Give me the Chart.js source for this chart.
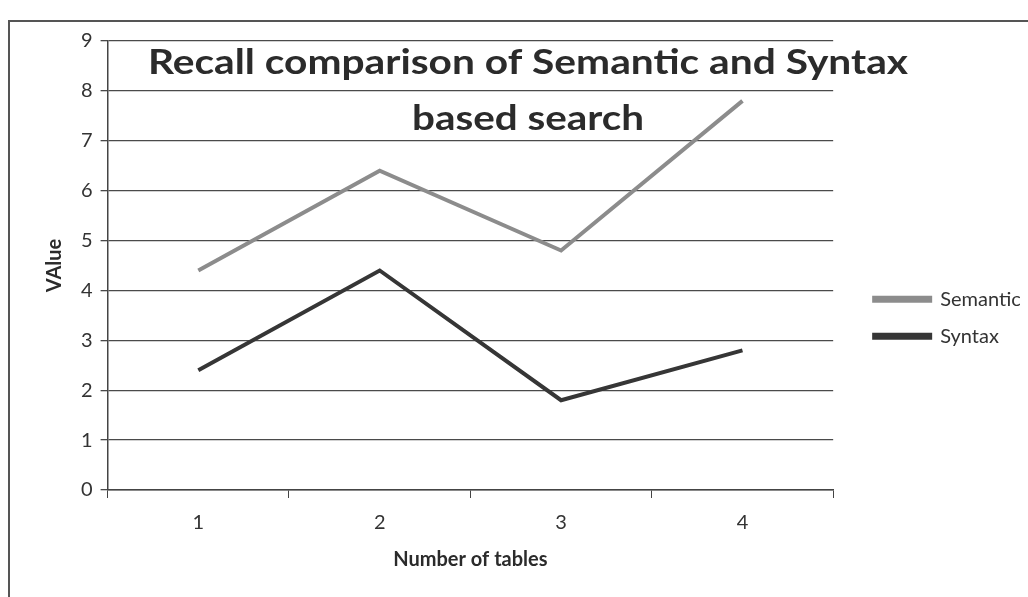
<!DOCTYPE html>
<html>
<head>
<meta charset="utf-8">
<script src="https://cdn.jsdelivr.net/npm/chart.js@4"></script>
<style>
  html, body { margin: 0; padding: 0; background: #fff; }
  #frame {
    position: absolute; left: 8px; top: 20px; width: 1030px; height: 600px;
    border-left: 2px solid #555; border-top: 2px solid #555;
  }
  #wrap { position: absolute; left: 0; top: 0; width: 1028px; height: 597px; }
</style>
</head>
<body>
<div id="frame"></div>
<div id="wrap"><canvas id="recallChart"></canvas></div>
<script>
const categories = ["1", "2", "3", "4"];
const semanticValues = [4.4, 6.4, 4.8, 7.8];
const syntaxValues = [2.4, 4.4, 1.8, 2.8];
const titleLines = ["Recall comparison of Semantic and Syntax", "based search"];

const FONT = "Lato, sans-serif";

// the title overlaps the plot in the original, so it's drawn after the datasets
// (the scan is a bit wide, so the text gets stretched to the same width)
const overlayTitle = {
  id: "overlayTitle",
  afterDraw(chart) {
    const { ctx } = chart;
    const rows = [
      { text: titleLines[0], y: 63, width: 760 },
      { text: titleLines[1], y: 119, width: 232 },
    ];
    ctx.save();
    ctx.fillStyle = "#2b2b2b";
    ctx.font = "bold 35px " + FONT;
    ctx.textAlign = "center";
    ctx.textBaseline = "middle";
    rows.forEach((r) => {
      const sx = r.width / ctx.measureText(r.text).width;
      ctx.save();
      ctx.translate(528, r.y);
      ctx.scale(sx, 1);
      ctx.fillText(r.text, 0, 0);
      ctx.restore();
    });
    ctx.restore();
  }
};

const chart = new Chart(document.getElementById("recallChart"), {
  type: "line",
  data: {
    labels: categories,
    datasets: [
      {
        label: "Semantic",
        data: semanticValues,
        borderColor: "#8c8c8c",
        backgroundColor: "#8c8c8c",
        borderWidth: 4,
        pointRadius: 0,
        tension: 0,
      },
      {
        label: "Syntax",
        data: syntaxValues,
        borderColor: "#363636",
        backgroundColor: "#363636",
        borderWidth: 4,
        pointRadius: 0,
        tension: 0,
      },
    ],
  },
  options: {
    responsive: true,
    maintainAspectRatio: false,
    animation: false,
    layout: { padding: { left: 43, right: 8, top: 41, bottom: 25 } },
    plugins: {
      title: { display: false },
      tooltip: { enabled: false },
      legend: {
        position: "right",
        title: { display: true, text: "", padding: { top: 8, bottom: 0 } },
        labels: {
          boxWidth: 56,
          boxHeight: 3,
          padding: 17,
          color: "#333",
          font: { family: FONT, size: 20 },
        },
      },
    },
    scales: {
      x: {
        offset: true,
        grid: { offset: true, drawOnChartArea: false, tickLength: 8, color: "#444" },
        border: { color: "#444", width: 1.5 },
        ticks: { color: "#333", font: { family: FONT, size: 20 }, padding: 13 },
        title: {
          display: true,
          text: "Number of tables",
          color: "#2b2b2b",
          font: { family: FONT, size: 20, weight: "bold" },
          padding: { top: 0, bottom: 0 },
        },
      },
      y: {
        min: 0,
        max: 9,
        ticks: { stepSize: 1, color: "#333", font: { family: FONT, size: 20 }, padding: 8 },
        grid: { color: "#4a4a4a", lineWidth: 1.3, tickLength: 7 },
        border: { color: "#444", width: 1.5 },
        title: {
          display: true,
          text: "VAlue",
          color: "#2b2b2b",
          font: { family: FONT, size: 20, weight: "bold" },
          padding: { top: 0, bottom: 6 },
        },
      },
      // empty spacer between the plot and the legend
      gap: {
        position: "right",
        grid: { display: false },
        border: { display: false },
        ticks: { display: false },
        afterFit(scale) { scale.width = 24; },
      },
    },
  },
  plugins: [overlayTitle],
});

// re-measure the legend once the fonts are settled
document.fonts.ready.then(() => chart.update());
</script>
</body>
</html>
